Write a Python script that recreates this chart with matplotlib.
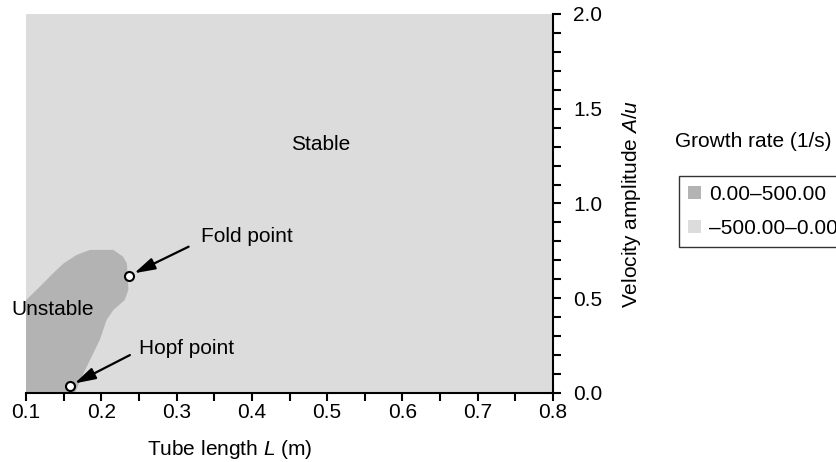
import numpy as np
import matplotlib.pyplot as plt
from matplotlib.patches import Patch
from matplotlib.ticker import MultipleLocator

plt.rcParams['font.family'] = ['Liberation Sans', 'DejaVu Sans']
plt.rcParams['mathtext.fontset'] = 'custom'
plt.rcParams['mathtext.it'] = 'Liberation Sans:italic'
plt.rcParams['mathtext.rm'] = 'Liberation Sans'

# boundary of the unstable (positive growth rate) region
unstable_L = [0.100, 0.123, 0.136, 0.150, 0.167, 0.185, 0.216, 0.229, 0.234,
              0.236, 0.231, 0.216, 0.207, 0.198, 0.185, 0.172, 0.165, 0.100]
unstable_A = [0.490, 0.579, 0.632, 0.684, 0.728, 0.755, 0.755, 0.719, 0.684,
              0.544, 0.490, 0.438, 0.385, 0.280, 0.174, 0.069, 0.000, 0.000]

fold_point = (0.237, 0.619)
hopf_point = (0.158, 0.037)

legend_labels = ['0.00\u2013500.00', '\u2013500.00\u20130.00']
stable_color = '#dcdcdc'
unstable_color = '#b3b3b3'
FS = 15

fig = plt.figure(figsize=(8.36, 4.62), dpi=100)
ax = fig.add_axes([0.0311, 0.1494, 0.6304, 0.8203])

ax.set_xlim(0.1, 0.8)
ax.set_ylim(0.0, 2.0)
ax.set_facecolor(stable_color)
ax.fill(unstable_L, unstable_A, color=unstable_color, lw=0)

ax.plot(*fold_point, 'o', ms=6.5, mfc='white', mec='black', mew=1.5, zorder=5)
ax.plot(*hopf_point, 'o', ms=6.5, mfc='white', mec='black', mew=1.5, zorder=5)

arrow = dict(arrowstyle='-|>,head_length=0.7,head_width=0.2', color='black',
             lw=1.6, mutation_scale=18, shrinkA=0, shrinkB=4)
ax.text(0.333, 0.825, 'Fold point', fontsize=FS, va='center', ha='left')
ax.annotate('', xy=fold_point, xytext=(0.316, 0.772), arrowprops=arrow)
ax.text(0.2505, 0.236, 'Hopf point', fontsize=FS, va='center', ha='left')
ax.annotate('', xy=hopf_point, xytext=(0.238, 0.200), arrowprops=arrow)

ax.text(0.081, 0.443, 'Unstable', fontsize=FS, va='center', ha='left', clip_on=False)
ax.text(0.491, 1.309, 'Stable', fontsize=FS, va='center', ha='center')

for s in ['left', 'top']:
    ax.spines[s].set_visible(False)
for s in ['bottom', 'right']:
    ax.spines[s].set_linewidth(1.5)

ax.yaxis.tick_right()
ax.yaxis.set_label_position('right')
ax.xaxis.set_major_locator(MultipleLocator(0.1))
ax.xaxis.set_minor_locator(MultipleLocator(0.05))
ax.yaxis.set_major_locator(MultipleLocator(0.5))
ax.yaxis.set_minor_locator(MultipleLocator(0.1))
ax.tick_params(which='both', direction='out', width=1.5, length=5.5, labelsize=FS)
ax.tick_params(axis='y', which='both', left=False, right=True, pad=9)
ax.tick_params(axis='x', which='both', pad=2)
ax.xaxis.set_major_formatter(plt.FuncFormatter(lambda v, p: f'{v:.1f}'))
ax.yaxis.set_major_formatter(plt.FuncFormatter(lambda v, p: f'{v:.1f}'))

ax.set_xlabel('Tube length $L$ (m)', fontsize=FS)
ax.xaxis.set_label_coords(0.386, -0.118)
ax.set_ylabel('Velocity amplitude $A/u$', fontsize=FS, labelpad=13)

fig.text(0.8075, 0.693, 'Growth rate (1/s)', fontsize=FS, va='center', ha='left')
handles = [Patch(facecolor=unstable_color, edgecolor='none'),
           Patch(facecolor=stable_color, edgecolor='none')]
leg = fig.legend(handles, legend_labels, loc='upper left',
                 bbox_to_anchor=(0.812, 0.620), fontsize=FS, frameon=True,
                 fancybox=False, edgecolor='black', handlelength=0.6,
                 handleheight=0.6, handletextpad=0.4, borderpad=0.45,
                 labelspacing=0.7, borderaxespad=0)
leg.get_frame().set_linewidth(1.0)

fig.savefig('out.png', dpi=100)
